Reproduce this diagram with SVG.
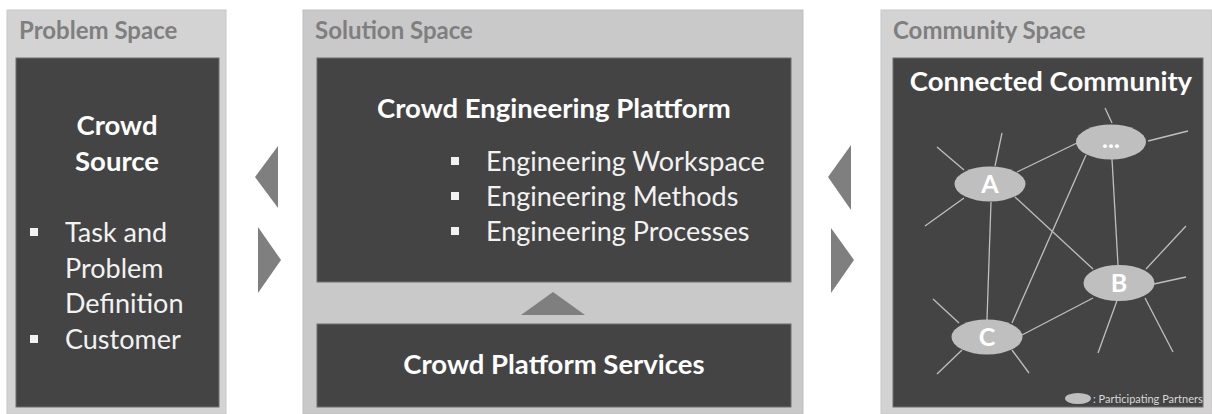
<svg xmlns="http://www.w3.org/2000/svg" width="1212" height="414" viewBox="0 0 1212 414">
  <style>
    .panel { fill: #d3d3d3; stroke: #c8c8c8; stroke-width: 1; }
    .panel-mid { fill: #c9c9c9; stroke: #bfbfbf; stroke-width: 1; }
    .box { fill: #444444; stroke: #6f6f6f; stroke-width: 1; }
    .head { font-family: Lato, "Liberation Sans", sans-serif; font-weight: 700; font-size: 24px; fill: #7f7f7f; }
    .title { font-family: Lato, "Liberation Sans", sans-serif; font-weight: 700; font-size: 27.5px; fill: #ffffff; }
    .item { font-family: Lato, "Liberation Sans", sans-serif; font-weight: 400; font-size: 27px; fill: #f2f2f2; }
    .bullet { fill: #f2f2f2; }
    .flow { fill: #7f7f7f; }
    .partner { fill: #bfbfbf; }
    .partner-label { font-family: Lato, "Liberation Sans", sans-serif; font-weight: 700; font-size: 25px; fill: #ffffff; text-anchor: middle; }
    .edge { stroke: #bfbfbf; stroke-width: 1.3; fill: none; }
    .legend { font-family: Lato, "Liberation Sans", sans-serif; font-size: 11px; fill: #d9d9d9; }
  </style>

  <!-- Problem space -->
  <g id="problem-space">
    <rect class="panel" x="7" y="10" width="219" height="404"/>
    <text class="head" x="19" y="39">Problem Space</text>
    <rect class="box" x="16" y="58" width="203" height="349"/>
    <text class="title" x="117" y="135" text-anchor="middle">Crowd</text>
    <text class="title" x="117" y="171" text-anchor="middle">Source</text>
    <rect class="bullet" x="30" y="228" width="8" height="8"/>
    <text class="item" x="65" y="242">Task and</text>
    <text class="item" x="65" y="278">Problem</text>
    <text class="item" x="65" y="313">Definition</text>
    <rect class="bullet" x="30" y="335" width="8" height="8"/>
    <text class="item" x="65" y="349">Customer</text>
  </g>

  <!-- Solution space -->
  <g id="solution-space">
    <rect class="panel-mid" x="303" y="10" width="500" height="404"/>
    <text class="head" x="315" y="39">Solution Space</text>
    <g id="crowd-engineering-plattform">
      <rect class="box" x="317" y="58" width="474" height="224"/>
      <text class="title" x="554" y="118" text-anchor="middle">Crowd Engineering Plattform</text>
      <rect class="bullet" x="451" y="157" width="8" height="8"/>
      <text class="item" x="486" y="171">Engineering Workspace</text>
      <rect class="bullet" x="451" y="192" width="8" height="8"/>
      <text class="item" x="486" y="206">Engineering Methods</text>
      <rect class="bullet" x="451" y="227" width="8" height="8"/>
      <text class="item" x="486" y="241">Engineering Processes</text>
    </g>
    <g id="crowd-platform-services">
      <rect class="box" x="317" y="324" width="474" height="83"/>
      <text class="title" x="554" y="374" text-anchor="middle">Crowd Platform Services</text>
    </g>
  </g>

  <!-- Community space -->
  <g id="community-space">
    <rect class="panel" x="881" y="10" width="331" height="404"/>
    <text class="head" x="893" y="39">Community Space</text>
    <rect class="box" x="893" y="58" width="310" height="349"/>
    <text class="title" x="1051" y="91" text-anchor="middle" font-size="29">Connected Community</text>
  </g>

  <!-- Flow arrows between the spaces -->
  <g id="flow-arrows">
    <polygon class="flow" points="255,177 278,146 278,208"/>
    <polygon class="flow" points="258,227 281,260 258,293"/>
    <polygon class="flow" points="828,177 851,145 851,210"/>
    <polygon class="flow" points="831,228 854,260 831,293"/>
    <polygon class="flow" points="521,315 553,292 585,315"/>
  </g>

  <!-- Community network links -->
  <g id="connectors">
    <line class="edge" x1="1017" y1="172" x2="1077" y2="143"/>
    <line class="edge" x1="1015" y1="197" x2="1093" y2="269"/>
    <line class="edge" x1="991" y1="202" x2="987" y2="320"/>
    <line class="edge" x1="1086" y1="155" x2="1012" y2="323"/>
    <line class="edge" x1="1112" y1="159" x2="1118" y2="265"/>
    <line class="edge" x1="1093" y1="298" x2="1022" y2="335"/>
    <!-- open-ended links -->
    <line class="edge" x1="964" y1="170" x2="937" y2="147"/>
    <line class="edge" x1="995" y1="166" x2="1002" y2="133"/>
    <line class="edge" x1="964" y1="198" x2="925" y2="226"/>
    <line class="edge" x1="1112" y1="123" x2="1105" y2="108"/>
    <line class="edge" x1="1148" y1="141" x2="1188" y2="131"/>
    <line class="edge" x1="1146" y1="269" x2="1186" y2="226"/>
    <line class="edge" x1="1154" y1="284" x2="1186" y2="277"/>
    <line class="edge" x1="1119" y1="295" x2="1098" y2="353"/>
    <line class="edge" x1="1145" y1="298" x2="1173" y2="352"/>
    <line class="edge" x1="959" y1="323" x2="933" y2="299"/>
    <line class="edge" x1="962" y1="350" x2="937" y2="374"/>
    <line class="edge" x1="1012" y1="350" x2="1029" y2="373"/>
  </g>

  <g id="partner-a">
    <ellipse class="partner" cx="990" cy="184" rx="35.5" ry="17.5"/>
    <text class="partner-label" x="990" y="193">A</text>
  </g>
  <g id="partner-more">
    <ellipse class="partner" cx="1111" cy="142" rx="35" ry="17.5"/>
    <text class="partner-label" x="1111" y="148">...</text>
  </g>
  <g id="partner-b">
    <ellipse class="partner" cx="1119" cy="283" rx="35.5" ry="18"/>
    <text class="partner-label" x="1119" y="292">B</text>
  </g>
  <g id="partner-c">
    <ellipse class="partner" cx="987" cy="337" rx="35.5" ry="17.5"/>
    <text class="partner-label" x="987" y="346">C</text>
  </g>

  <g id="legend">
    <ellipse class="partner" cx="1078" cy="398.5" rx="13" ry="5.5"/>
    <text class="legend" x="1093" y="403">: Participating Partners</text>
  </g>
</svg>
